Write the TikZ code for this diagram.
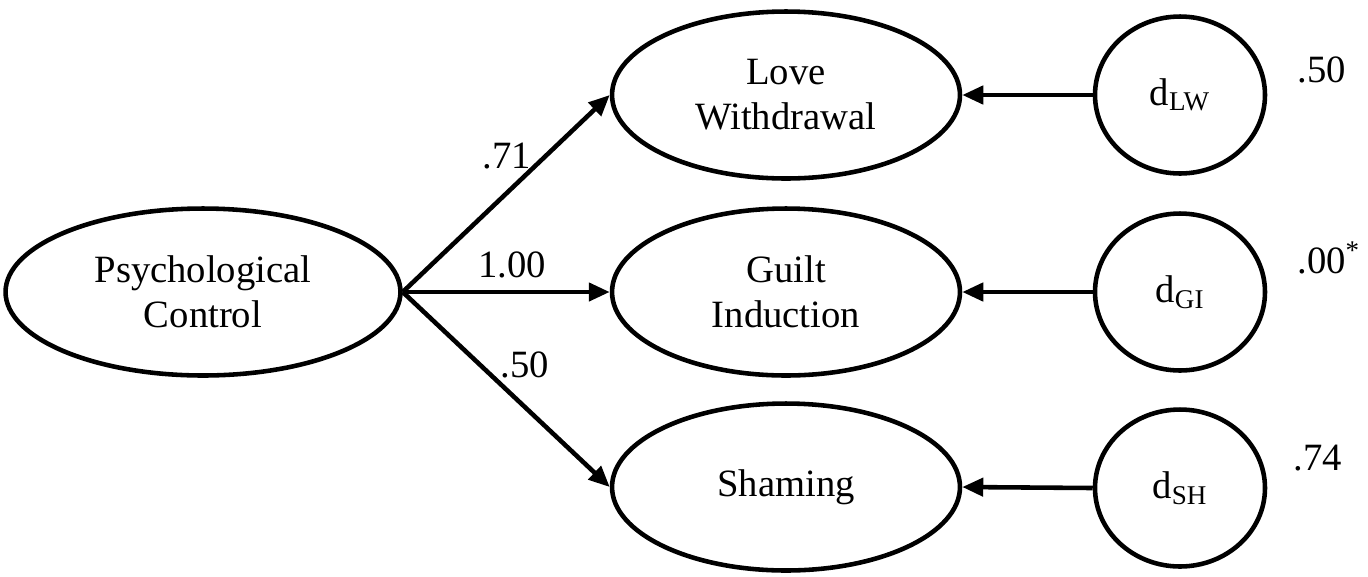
\documentclass[tikz,border=0pt]{standalone}
\usepackage{fontspec}
\setmainfont{Liberation Serif}
\usetikzlibrary{shapes.geometric,arrows.meta}

\begin{document}
\begin{tikzpicture}[x=0.02cm,y=-0.02cm,font=\fontsize{22}{25.5}\selectfont,
    latent/.style={draw=black,ellipse,line width=2.6pt,inner sep=0pt,align=center,minimum width=#1,minimum height=3.34cm},
    residual/.style={draw=black,ellipse,line width=2.6pt,inner sep=0pt,minimum width=3.4cm,minimum height=3.14cm},
    path arrow/.style={-{Triangle[length=0.42cm,width=0.36cm]},line width=2.6pt},
    coef/.style={anchor=base west,inner sep=0pt}]
    \useasboundingbox (0,0) rectangle (1368,576);
    % latent factors
    \node[latent=7.9cm] (pc) at (203,292) {Psychological\\Control};
    \node[latent=6.96cm] (lw) at (786,95) {Love\\Withdrawal};
    \node[latent=6.96cm] (gi) at (786,292) {Guilt\\Induction};
    \node[latent=6.96cm] (sh) at (786,487) {Shaming};
    % disturbances
    \node[residual] (dlw) at (1180,95) {d\textsubscript{LW}};
    \node[residual] (dgi) at (1180,292) {d\textsubscript{GI}};
    \node[residual] (dsh) at (1180,488) {d\textsubscript{SH}};
    % paths
    \draw[path arrow] (pc.east) -- (lw.west);
    \draw[path arrow] (pc.east) -- (gi.west);
    \draw[path arrow] (pc.east) -- (sh.west);
    \draw[path arrow] (dlw.west) -- (lw.east);
    \draw[path arrow] (dgi.west) -- (gi.east);
    \draw[path arrow] (dsh.west) -- (sh.east);
    % loadings and residual variances
    \node[coef] (c71) at (482,168) {.71};
    \node[coef] (c100) at (478,277) {1.00};
    \node[coef] (c50) at (500,377) {.50};
    \node[coef] (vlw) at (1297,82) {.50};
    \node[coef] (vgi) at (1297,273) {.00\textsuperscript{*}};
    \node[coef] (vsh) at (1293,470) {.74};
\end{tikzpicture}
\end{document}
